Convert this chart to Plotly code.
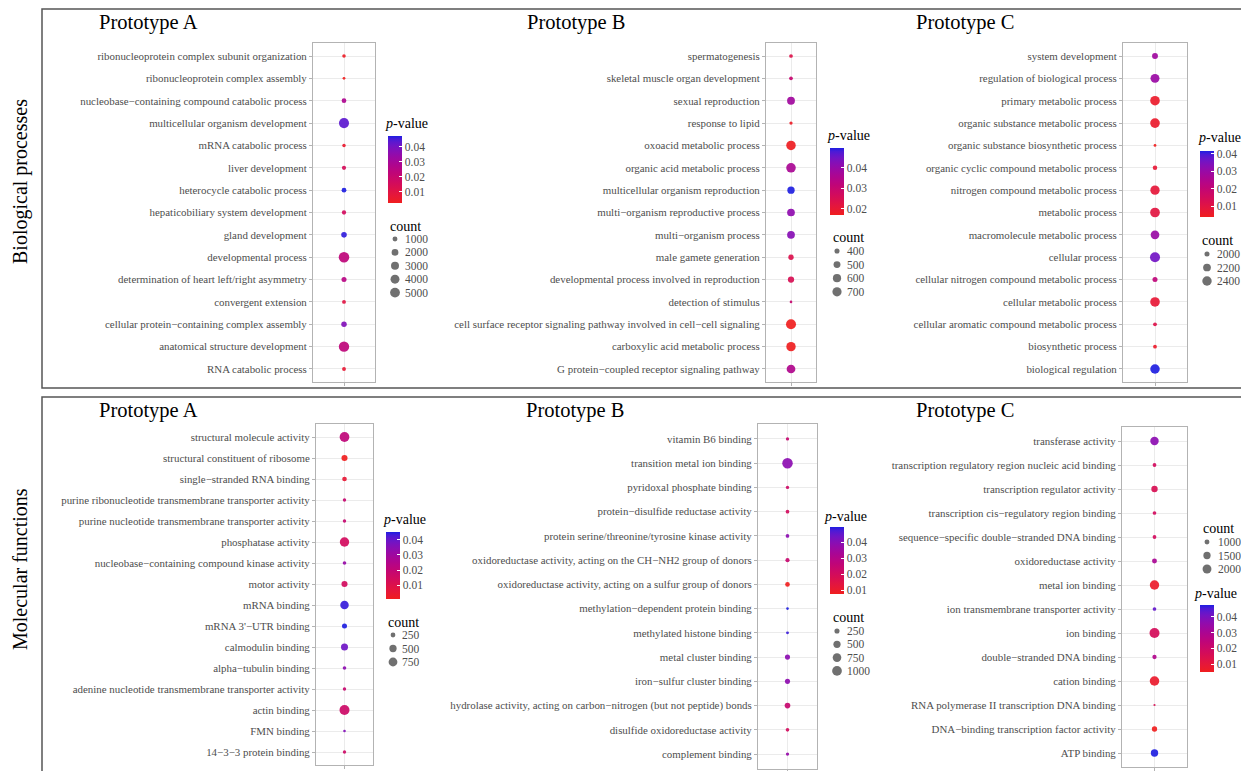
import numpy as np
import plotly.graph_objects as go

W, H = 1241, 771
FONT = "Liberation Serif"
TXT = "#4D4D4D"

# ---------------- data ----------------
# Biological processes
bp_a_terms = ["ribonucleoprotein complex subunit organization", "ribonucleoprotein complex assembly",
              "nucleobase−containing compound catabolic process", "multicellular organism development",
              "mRNA catabolic process", "liver development", "heterocycle catabolic process",
              "hepaticobiliary system development", "gland development", "developmental process",
              "determination of heart left/right asymmetry", "convergent extension",
              "cellular protein−containing complex assembly", "anatomical structure development",
              "RNA catabolic process"]
bp_a_count = [650, 600, 930, 5400, 640, 780, 950, 790, 1300, 5900, 1050, 700, 1250, 5700, 700]
bp_a_p = [0.004, 0.0027, 0.028, 0.043, 0.006, 0.015, 0.047, 0.016, 0.046, 0.023, 0.025, 0.010, 0.038, 0.023, 0.007]
bp_a_breaks = [1000, 2000, 3000, 4000, 5000]

bp_b_terms = ["spermatogenesis", "skeletal muscle organ development", "sexual reproduction", "response to lipid",
              "oxoacid metabolic process", "organic acid metabolic process", "multicellular organism reproduction",
              "multi−organism reproductive process", "multi−organism process", "male gamete generation",
              "developmental process involved in reproduction", "detection of stimulus",
              "cell surface receptor signaling pathway involved in cell−cell signaling",
              "carboxylic acid metabolic process", "G protein−coupled receptor signaling pathway"]
bp_b_count = [360, 360, 570, 354, 730, 740, 530, 560, 565, 410, 460, 350, 790, 720, 650]
bp_b_p = [0.0235, 0.030, 0.038, 0.018, 0.0175, 0.0365, 0.0495, 0.041, 0.042, 0.024, 0.025, 0.030, 0.017, 0.0172, 0.035]
bp_b_breaks = [400, 500, 600, 700]

bp_c_terms = ["system development", "regulation of biological process", "primary metabolic process",
              "organic substance metabolic process", "organic substance biosynthetic process",
              "organic cyclic compound metabolic process", "nitrogen compound metabolic process",
              "metabolic process", "macromolecule metabolic process", "cellular process",
              "cellular nitrogen compound metabolic process", "cellular metabolic process",
              "cellular aromatic compound metabolic process", "biosynthetic process", "biological regulation"]
bp_c_count = [2050, 2340, 2420, 2430, 1950, 1980, 2380, 2440, 2300, 2480, 2000, 2420, 1960, 1960, 2410]
bp_c_p = [0.0284, 0.0296, 0.0057, 0.006, 0.0038, 0.0076, 0.0083, 0.0095, 0.030, 0.036, 0.0209, 0.0076, 0.0114, 0.0057, 0.0417]
bp_c_breaks = [2000, 2200, 2400]

# Molecular functions
mf_a_terms = ["structural molecule activity", "structural constituent of ribosome", "single−stranded RNA binding",
              "purine ribonucleotide transmembrane transporter activity",
              "purine nucleotide transmembrane transporter activity", "phosphatase activity",
              "nucleobase−containing compound kinase activity", "motor activity", "mRNA binding",
              "mRNA 3'−UTR binding", "calmodulin binding", "alpha−tubulin binding",
              "adenine nucleotide transmembrane transporter activity", "actin binding", "FMN binding",
              "14−3−3 protein binding"]
mf_a_count = [940, 360, 240, 190, 190, 860, 195, 360, 700, 270, 470, 195, 190, 990, 180, 188]
mf_a_p = [0.0208, 0.0007, 0.005, 0.0185, 0.0185, 0.014, 0.032, 0.014, 0.044, 0.0453, 0.039, 0.034, 0.018, 0.0163, 0.036, 0.016]
mf_a_breaks = [250, 500, 750]

mf_b_terms = ["vitamin B6 binding", "transition metal ion binding", "pyridoxal phosphate binding",
              "protein−disulfide reductase activity", "protein serine/threonine/tyrosine kinase activity",
              "oxidoreductase activity, acting on the CH−NH2 group of donors",
              "oxidoreductase activity, acting on a sulfur group of donors",
              "methylation−dependent protein binding", "methylated histone binding", "metal cluster binding",
              "iron−sulfur cluster binding",
              "hydrolase activity, acting on carbon−nitrogen (but not peptide) bonds",
              "disulfide oxidoreductase activity", "complement binding"]
mf_b_count = [148, 1200, 150, 160, 160, 180, 210, 140, 142, 250, 250, 300, 158, 148]
mf_b_p = [0.0243, 0.039, 0.022, 0.020, 0.039, 0.024, 0.0075, 0.0494, 0.048, 0.039, 0.0385, 0.024, 0.020, 0.037]
mf_b_breaks = [250, 500, 750, 1000]

mf_c_terms = ["transferase activity", "transcription regulatory region nucleic acid binding",
              "transcription regulator activity", "transcription cis−regulatory region binding",
              "sequence−specific double−stranded DNA binding", "oxidoreductase activity", "metal ion binding",
              "ion transmembrane transporter activity", "ion binding", "double−stranded DNA binding",
              "cation binding", "RNA polymerase II transcription DNA binding",
              "DNA−binding transcription factor activity", "ATP binding"]
mf_c_count = [1860, 870, 1270, 860, 870, 1000, 2200, 860, 2450, 920, 2260, 800, 1060, 1530]
mf_c_p = [0.037, 0.0177, 0.0156, 0.0177, 0.0177, 0.0305, 0.007, 0.043, 0.0169, 0.0284, 0.0075, 0.0156, 0.0049, 0.0476]
mf_c_breaks = [1000, 1500, 2000]

titles = ["Prototype A", "Prototype B", "Prototype C"]
row_titles = ["Biological processes", "Molecular functions"]


# ---------------- colour scale: red -> blue interpolated in CIELab ----------------
def _lin(c):
    c = c / 255.0
    return c / 12.92 if c <= 0.04045 else ((c + 0.055) / 1.055) ** 2.4


def _gam(c):
    c = max(0.0, min(1.0, c))
    v = 12.92 * c if c <= 0.0031308 else 1.055 * c ** (1 / 2.4) - 0.055
    return int(round(max(0, min(1, v)) * 255))


_M = np.array([[0.4124, 0.3576, 0.1805], [0.2126, 0.7152, 0.0722], [0.0193, 0.1192, 0.9505]])
_Mi = np.linalg.inv(_M)
_WN = np.array([0.95047, 1.0, 1.08883])


def to_lab(rgb):
    xyz = _M @ np.array([_lin(v) for v in rgb]) / _WN
    f = np.where(xyz > 0.008856, np.cbrt(xyz), 7.787 * xyz + 16 / 116)
    return np.array([116 * f[1] - 16, 500 * (f[0] - f[1]), 200 * (f[1] - f[2])])


def from_lab(lab):
    fy = (lab[0] + 16) / 116
    fx = fy + lab[1] / 500
    fz = fy - lab[2] / 200
    f = np.array([fx, fy, fz])
    xyz = np.where(f ** 3 > 0.008856, f ** 3, (f - 16 / 116) / 7.787) * _WN
    rgb = _Mi @ xyz
    return "rgb(%d,%d,%d)" % tuple(_gam(v) for v in rgb)


L0, L1 = to_lab((240, 30, 30)), to_lab((30, 30, 225))
COLORSCALE = [[t, from_lab(L0 + (L1 - L0) * t)] for t in np.linspace(0, 1, 21)]


def diam(vals, cmin, cmax, dmin, dmax):
    v = np.asarray(vals, dtype=float)
    return dmin + (dmax - dmin) * np.sqrt((v - cmin) / (cmax - cmin))


# ---------------- panel layout (pixels) ----------------
panels = [
    dict(terms=bp_a_terms, counts=bp_a_count, p=bp_a_p, breaks=bp_a_breaks, cat="A",
         box=(313, 375, 42.6, 382.4), dr=(2.8, 10.5), title=(148, 22, 0),
         cbt=(383, 124), cb=(388, 136, 67), ct=(388, 226), cd=(395, 403, 239, 13.4)),
    dict(terms=bp_b_terms, counts=bp_b_count, p=bp_b_p, breaks=bp_b_breaks, cat="B",
         box=(766, 816, 42.6, 382.4), dr=(2.6, 10), title=(576, 22, 1),
         cbt=(825, 135), cb=(830, 148, 67), ct=(831, 237), cd=(837, 845, 251, 13.6)),
    dict(terms=bp_c_terms, counts=bp_c_count, p=bp_c_p, breaks=bp_c_breaks, cat="C",
         box=(1123, 1187, 42.6, 382.4), dr=(2.8, 10), title=(965, 22, 2),
         cbt=(1196, 137), cb=(1200, 151, 66), ct=(1200, 240), cd=(1207, 1215, 254, 13.5)),
    dict(terms=mf_a_terms, counts=mf_a_count, p=mf_a_p, breaks=mf_a_breaks, cat="A",
         box=(316, 373, 424.4, 764.6), dr=(2.6, 10), title=(148, 410, 0),
         cbt=(381, 519), cb=(386, 532, 67), ct=(386, 622), cd=(393, 400, 635, 13.5)),
    dict(terms=mf_b_terms, counts=mf_b_count, p=mf_b_p, breaks=mf_b_breaks, cat="B",
         box=(758, 817, 424.4, 768.6), dr=(2.6, 10.5), title=(575, 410, 1),
         cbt=(822, 516), cb=(830, 527, 67), ct=(831, 617), cd=(837, 845, 631, 13.3)),
    dict(terms=mf_c_terms, counts=mf_c_count, p=mf_c_p, breaks=mf_c_breaks, cat="C",
         box=(1122, 1187, 426.6, 767.4), dr=(2.2, 10), title=(965, 410, 2),
         cbt=(1192, 593), cb=(1200, 605, 67), ct=(1201, 528), cd=(1207, 1216, 542, 13.5)),
]

fig = go.Figure()
annotations = []
layout = {}

LEG = 7  # overlay axis in pixel coordinates for size legends
layout[f"xaxis{LEG}"] = dict(domain=[0, 1], range=[0, W], visible=False, fixedrange=True)
layout[f"yaxis{LEG}"] = dict(domain=[0, 1], range=[H, 0], visible=False, fixedrange=True)

for i, P in enumerate(panels):
    k = i + 1
    sfx = "" if k == 1 else str(k)
    n = len(P["terms"])
    x0, x1, y0, y1 = P["box"]
    cmin, cmax = min(P["counts"]), max(P["counts"])
    dmin, dmax = P["dr"]

    fig.add_trace(go.Scatter(
        x=[P["cat"]] * n, y=P["terms"], mode="markers",
        marker=dict(size=diam(P["counts"], cmin, cmax, dmin, dmax), color=P["p"],
                    coloraxis="coloraxis" + sfx, line=dict(width=0), opacity=0.92),
        xaxis="x" + sfx, yaxis="y" + sfx, showlegend=False, hoverinfo="skip"))

    layout["xaxis" + sfx] = dict(
        domain=[x0 / W, x1 / W], anchor="y" + sfx, type="category", range=[-0.6, 0.6],
        showticklabels=False, ticks="outside", ticklen=3, tickcolor="#B3B3B3",
        showgrid=True, gridcolor="#EBEBEB", gridwidth=1, zeroline=False,
        showline=True, mirror=True, linecolor="#B3B3B3", linewidth=1, fixedrange=True)
    layout["yaxis" + sfx] = dict(
        domain=[1 - y1 / H, 1 - y0 / H], anchor="x" + sfx, type="category",
        categoryorder="array", categoryarray=P["terms"][::-1], range=[-0.6, n - 0.4],
        ticks="outside", ticklen=3, tickcolor="#B3B3B3",
        tickfont=dict(family=FONT, size=10.9, color=TXT),
        showgrid=True, gridcolor="#EBEBEB", gridwidth=1, zeroline=False,
        showline=True, mirror=True, linecolor="#B3B3B3", linewidth=1, fixedrange=True)

    bx, by, bl = P["cb"]
    layout["coloraxis" + sfx] = dict(
        colorscale=COLORSCALE, cmin=min(P["p"]), cmax=max(P["p"]),
        colorbar=dict(x=bx / W, xanchor="left", xpad=0, y=1 - by / H, yanchor="top", ypad=0,
                      len=bl, lenmode="pixels", thickness=14, thicknessmode="pixels",
                      outlinewidth=0, tickmode="linear", tick0=0, dtick=0.01, tickformat=".2f",
                      ticks="inside", ticklen=3, tickcolor="white",
                      tickfont=dict(family=FONT, size=11.5, color=TXT)))

    # legend titles
    annotations.append(dict(x=P["cbt"][0] / W, y=1 - P["cbt"][1] / H, xref="paper", yref="paper",
                            text="<i>p</i>-value", showarrow=False, xanchor="left", yanchor="middle",
                            font=dict(family=FONT, size=14, color="black")))
    annotations.append(dict(x=P["ct"][0] / W, y=1 - P["ct"][1] / H, xref="paper", yref="paper",
                            text="count", showarrow=False, xanchor="left", yanchor="middle",
                            font=dict(family=FONT, size=14, color="black")))

    # size legend
    dx, lx, ry0, rstep = P["cd"]
    rows = [ry0 + j * rstep for j in range(len(P["breaks"]))]
    fig.add_trace(go.Scatter(
        x=[dx] * len(rows), y=rows, mode="markers",
        marker=dict(size=diam(P["breaks"], cmin, cmax, dmin, dmax), color="#333333", line=dict(width=0)),
        xaxis=f"x{LEG}", yaxis=f"y{LEG}", showlegend=False, hoverinfo="skip"))
    for b, ry in zip(P["breaks"], rows):
        annotations.append(dict(x=lx / W, y=1 - ry / H, xref="paper", yref="paper", text=str(b),
                                showarrow=False, xanchor="left", yanchor="middle",
                                font=dict(family=FONT, size=11.5, color=TXT)))

    # prototype title
    tx, ty, ti = P["title"]
    annotations.append(dict(x=tx / W, y=1 - ty / H, xref="paper", yref="paper", text=titles[ti],
                            showarrow=False, xanchor="center", yanchor="middle",
                            font=dict(family=FONT, size=20.5, color="black")))

# row titles
for txt, cy in zip(row_titles, [182, 569]):
    annotations.append(dict(x=20 / W, y=1 - cy / H, xref="paper", yref="paper", text=txt, textangle=-90,
                            showarrow=False, xanchor="center", yanchor="middle",
                            font=dict(family=FONT, size=20, color="black")))

shapes = [
    dict(type="rect", xref="paper", yref="paper", x0=42 / W, x1=1.02, y0=1 - 388 / H, y1=1 - 9 / H,
         line=dict(color="#555555", width=1.5)),
    dict(type="rect", xref="paper", yref="paper", x0=42 / W, x1=1.02, y0=-0.02, y1=1 - 397 / H,
         line=dict(color="#555555", width=1.5)),
]

fig.update_layout(width=W, height=H, margin=dict(l=0, r=0, t=0, b=0),
                  paper_bgcolor="white", plot_bgcolor="rgba(0,0,0,0)",
                  annotations=annotations, shapes=shapes, showlegend=False, **layout)

fig.write_html("out.html", config={"displayModeBar": False},
               post_script="document.body.style.margin='0';document.body.style.overflow='hidden';")
